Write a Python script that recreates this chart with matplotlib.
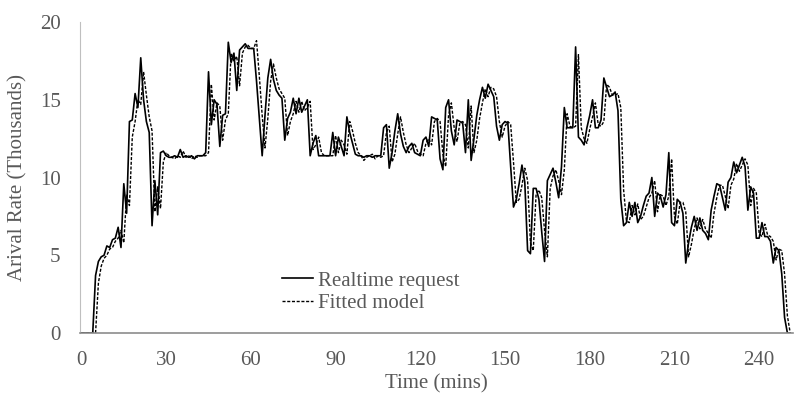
import matplotlib
matplotlib.use('Agg')
import matplotlib.pyplot as plt
import numpy as np

plt.rcParams['font.family'] = ['Liberation Serif', 'DejaVu Serif']

# arrival rate in thousands, one sample per minute
realtime = [
    0, 0, 0, 0, 0, 3.7, 4.6, 4.9, 5.0, 5.6,
    5.5, 6.0, 6.1, 6.8, 5.5, 9.6, 7.7, 13.6, 13.7, 15.4,
    14.5, 17.7, 15.0, 13.6, 12.9, 6.9, 9.8, 7.6, 11.6, 11.7,
    11.4, 11.3, 11.3, 11.4, 11.3, 11.8, 11.3, 11.4, 11.3, 11.4,
    11.2, 11.4, 11.4, 11.4, 11.6, 16.8, 13.4, 15.0, 14.7, 12.0,
    14.0, 14.1, 18.7, 17.4, 18.0, 15.6, 18.2, 18.4, 18.6, 18.3,
    18.3, 18.3, 16.2, 13.8, 11.4, 14.0, 16.4, 17.6, 16.3, 15.6,
    15.3, 15.1, 12.4, 13.8, 14.2, 15.1, 14.1, 15.1, 14.2, 14.6,
    15.0, 11.4, 12.2, 12.7, 11.4, 11.4, 11.4, 11.4, 11.4, 12.9,
    11.4, 12.6, 12.0, 11.4, 13.9, 12.9, 12.2, 11.5, 11.4, 11.4,
    11.3, 11.4, 11.4, 11.3, 11.4, 11.4, 11.4, 13.2, 13.4, 10.6,
    11.6, 13.0, 14.1, 12.8, 12.0, 11.6, 12.0, 12.2, 11.6, 11.5,
    11.4, 12.4, 12.6, 12.0, 13.9, 13.8, 13.7, 11.2, 10.5, 14.5,
    15.0, 13.0, 12.1, 13.7, 13.6, 13.5, 11.6, 15.0, 11.1, 12.5,
    14.0, 15.0, 15.8, 15.1, 16.0, 15.6, 15.2, 13.3, 12.4, 13.4,
    13.6, 13.5, 10.7, 8.1, 8.6, 9.6, 10.8, 9.7, 5.3, 5.1,
    9.3, 9.3, 8.6, 6.5, 4.6, 9.8, 10.2, 10.6, 9.7, 8.7,
    10.7, 14.5, 13.2, 13.2, 13.2, 18.4, 12.6, 12.4, 12.1, 13.2,
    14.0, 15.0, 13.2, 13.2, 13.7, 16.4, 15.8, 15.2, 15.3, 15.5,
    14.3, 8.6, 6.9, 7.1, 8.4, 7.5, 8.4, 7.1, 7.5, 8.2,
    8.8, 9.0, 10.0, 7.5, 9.0, 8.8, 8.1, 8.9, 11.6, 7.1,
    6.9, 8.6, 8.4, 7.7, 4.5, 5.8, 6.8, 7.5, 6.6, 7.4,
    6.6, 6.4, 6.0, 7.9, 8.8, 9.6, 9.5, 8.7, 7.9, 9.7,
    10.0, 11.0, 10.3, 10.8, 11.3, 10.7, 7.9, 9.4, 9.0, 6.1,
    6.1, 7.1, 6.2, 6.2, 5.9, 4.5, 5.5, 5.3, 3.8, 1.0,
    0, 0,
]

fitted = [
    0, 0, 0, 0, 0, 0, 3.2, 4.3, 4.8, 5.0,
    5.4, 5.5, 5.9, 6.1, 6.6, 5.8, 8.9, 8.2, 12.6, 13.6,
    15.0, 14.7, 16.8, 15.3, 13.9, 13.0, 7.8, 9.4, 8.0, 11.0,
    11.6, 11.4, 11.3, 11.2, 11.4, 11.3, 11.7, 11.3, 11.4, 11.2,
    11.4, 11.3, 11.4, 11.4, 11.4, 11.6, 16.0, 13.7, 14.8, 14.6,
    12.4, 13.7, 14.1, 18.0, 17.5, 17.8, 15.9, 18.0, 18.4, 18.5,
    18.3, 18.3, 18.8, 16.5, 14.0, 11.9, 13.8, 16.2, 17.3, 16.4,
    15.7, 15.4, 15.1, 12.7, 13.6, 14.1, 14.9, 14.2, 14.9, 14.3,
    14.5, 14.9, 11.8, 12.1, 12.6, 11.6, 11.4, 11.4, 11.4, 11.4,
    12.7, 11.6, 12.4, 12.1, 11.5, 13.6, 13.0, 12.2, 11.6, 11.4,
    11.1, 11.3, 11.4, 11.5, 11.2, 11.4, 11.3, 11.4, 12.9, 13.3,
    11.0, 11.5, 12.8, 13.9, 12.9, 12.1, 11.6, 11.9, 12.2, 11.7,
    11.5, 11.4, 12.2, 12.5, 12.1, 13.6, 13.8, 13.6, 11.5, 10.7,
    14.0, 14.8, 13.2, 12.3, 13.5, 13.6, 13.4, 11.9, 14.6, 11.6,
    12.4, 13.8, 14.8, 15.7, 15.2, 15.8, 15.7, 15.2, 13.6, 12.6,
    13.3, 13.6, 13.4, 11.0, 8.4, 8.6, 9.5, 10.6, 9.8, 5.8,
    5.3, 8.9, 9.2, 8.7, 6.6, 4.9, 9.3, 10.1, 10.5, 9.8,
    8.9, 10.5, 14.1, 13.3, 13.2, 13.3, 17.9, 13.2, 12.5, 12.2,
    13.1, 13.9, 14.8, 13.4, 13.3, 13.6, 16.0, 15.8, 15.3, 15.3,
    15.4, 14.5, 9.2, 7.2, 7.1, 8.2, 7.6, 8.3, 7.3, 7.5,
    8.1, 8.7, 9.0, 9.8, 7.8, 8.9, 8.8, 8.2, 8.8, 11.2,
    7.5, 7.0, 8.4, 8.4, 7.8, 4.9, 5.7, 6.7, 7.4, 6.7,
    7.3, 6.7, 6.4, 6.1, 7.7, 8.7, 9.5, 9.5, 8.8, 8.0,
    9.5, 9.9, 10.9, 10.4, 10.8, 11.2, 10.8, 8.2, 9.3, 9.0,
    6.4, 6.2, 7.0, 6.3, 6.2, 5.9, 4.7, 5.4, 5.3, 3.8,
    1.1, 0,
]

minutes = np.arange(len(realtime))
x_ticks = [0, 30, 60, 90, 120, 150, 180, 210, 240]
y_ticks = [0, 5, 10, 15, 20]

grey = '#595959'

fig = plt.figure(figsize=(7.94, 3.94), dpi=100)
ax = fig.add_axes([0.1008, 0.1548, 0.898, 0.7893])

ax.plot(minutes, realtime, color='black', lw=1.2, label='Realtime request')
ax.plot(minutes, fitted, color='black', lw=1.0, ls=(0, (2.2, 1.2)), label='Fitted model')

ax.set_xlim(-0.5, 252)
ax.set_ylim(0, 20)
ax.set_xticks(x_ticks)
ax.set_yticks(y_ticks)
ax.tick_params(length=0, labelsize=15, labelcolor=grey)
ax.tick_params(axis='x', pad=13)
ax.tick_params(axis='y', pad=14)

for side in ['top', 'right']:
    ax.spines[side].set_visible(False)
ax.spines['left'].set_color('#bfbfbf')
ax.spines['bottom'].set_color('#8c8c8c')
ax.spines['bottom'].set_linewidth(1.2)

ax.set_xlabel('Time (mins)', fontsize=15, color=grey, labelpad=3)
ax.set_ylabel('Arival Rate (Thousands)', fontsize=15, color=grey, labelpad=9)

leg = ax.legend(loc='upper left', bbox_to_anchor=(281.7 / 794, 1 - 271 / 394),
                bbox_transform=fig.transFigure, frameon=False, fontsize=15,
                handlelength=1.5, handletextpad=0.25, labelspacing=0.15,
                borderpad=0, borderaxespad=0)
for t in leg.get_texts():
    t.set_color(grey)

fig.savefig('out.png', dpi=100, facecolor='white')
